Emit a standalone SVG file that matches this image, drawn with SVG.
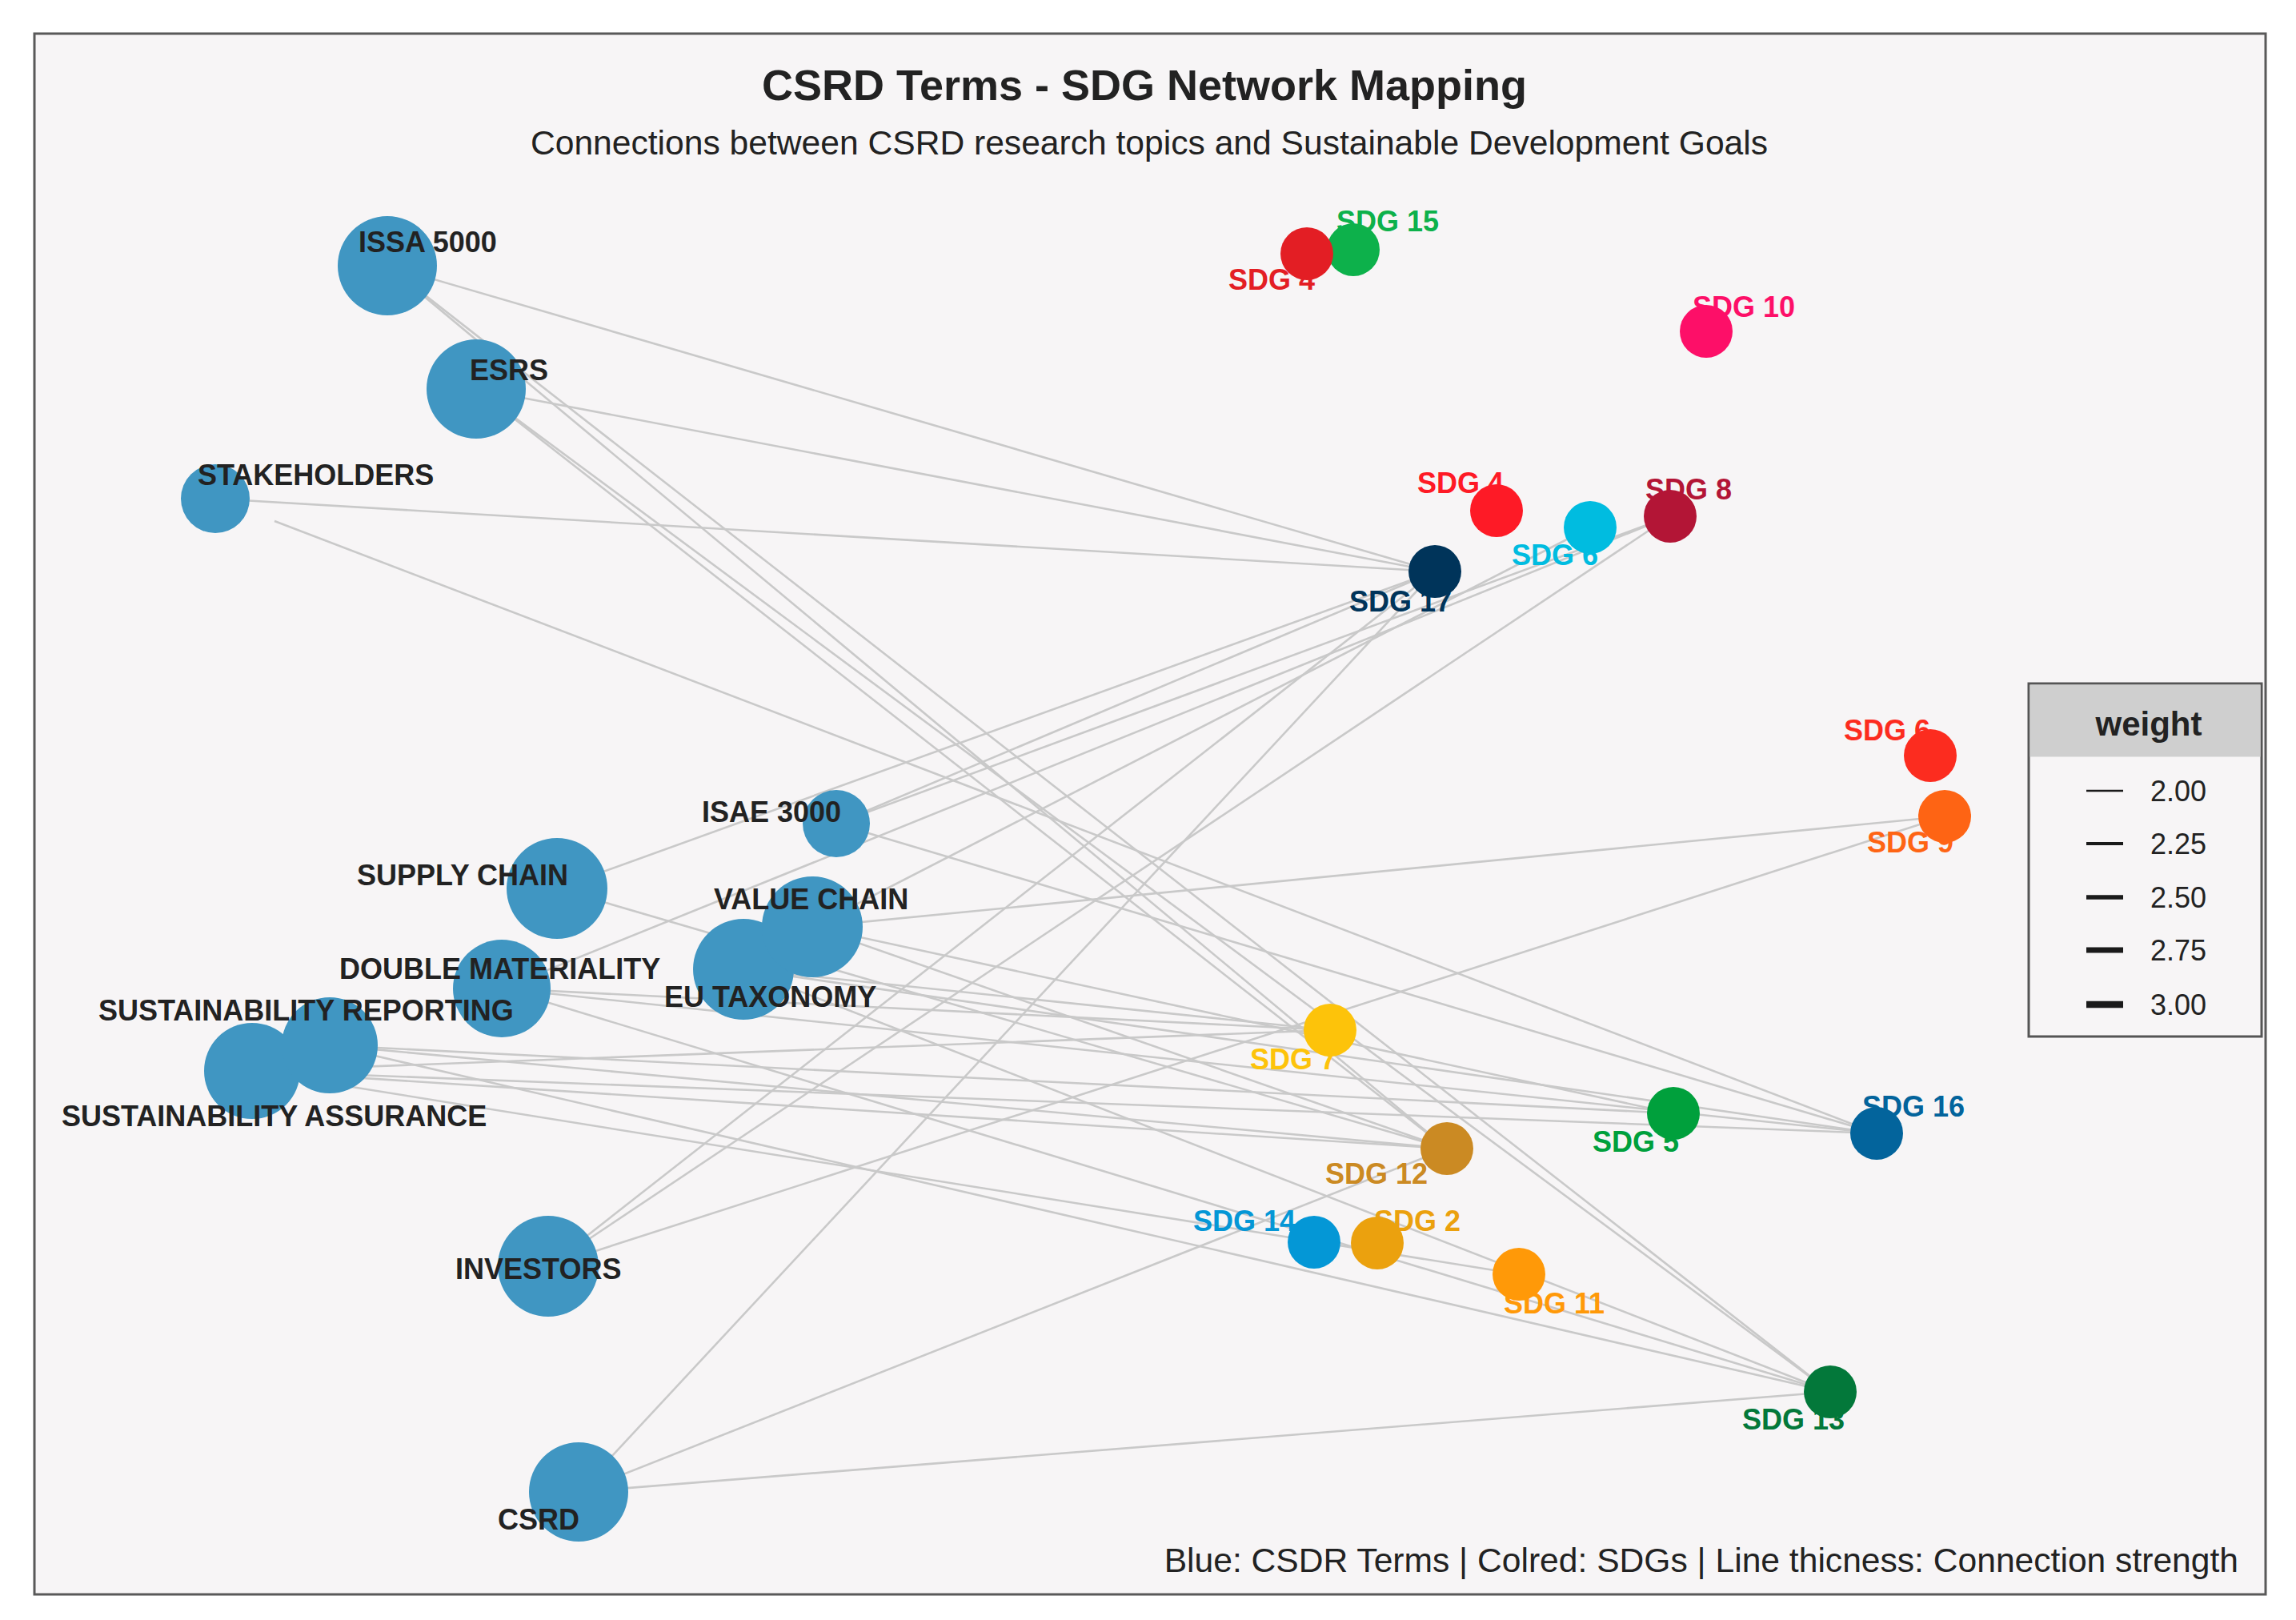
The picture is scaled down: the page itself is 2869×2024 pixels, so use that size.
<svg xmlns="http://www.w3.org/2000/svg" width="2869" height="2024" viewBox="0 0 2869 2024">
<style>
.t{font-family:"Liberation Sans",Arial,sans-serif;fill:#222}
.lbl{font-family:"Liberation Sans",Arial,sans-serif;font-weight:bold;font-size:36px}
.tl{fill:#222}
.term{fill:#4096c2}
.e line{stroke:#c9c9c9;stroke-width:2.6}
.lg{stroke:#1a1a1a}
</style>
<rect width="2869" height="2024" fill="#ffffff"/>
<rect x="43" y="42" width="2788" height="1950" fill="#f7f5f6" stroke="#595959" stroke-width="3"/>
<text class="t" x="1430" y="125" font-size="54" font-weight="bold" text-anchor="middle">CSRD Terms - SDG Network Mapping</text>
<text class="t" x="1436" y="193" font-size="42.6" text-anchor="middle">Connections between CSRD research topics and Sustainable Development Goals</text>
<text class="t" x="2797" y="1964" font-size="42.6" text-anchor="end">Blue: CSDR Terms | Colred: SDGs | Line thicness: Connection strength</text>

<g id="connectors" class="e">
<line x1="484" y1="332" x2="1793" y2="714"/>
<line x1="484" y1="332" x2="1808" y2="1435"/>
<line x1="484" y1="332" x2="2287" y2="1739"/>
<line x1="595" y1="486" x2="1793" y2="714"/>
<line x1="595" y1="486" x2="1808" y2="1435"/>
<line x1="595" y1="486" x2="2287" y2="1739"/>
<line x1="269" y1="623" x2="1793" y2="714"/>
<line x1="343" y1="651" x2="2345" y2="1416"/>
<line x1="1045" y1="1029" x2="1793" y2="714"/>
<line x1="1045" y1="1029" x2="2087" y2="645"/>
<line x1="1045" y1="1029" x2="2345" y2="1416"/>
<line x1="696" y1="1110" x2="1793" y2="714"/>
<line x1="696" y1="1110" x2="1808" y2="1435"/>
<line x1="1015" y1="1158" x2="1987" y2="659"/>
<line x1="1015" y1="1158" x2="2430" y2="1020"/>
<line x1="1015" y1="1158" x2="2091" y2="1391"/>
<line x1="1015" y1="1158" x2="1808" y2="1435"/>
<line x1="929" y1="1211" x2="1662" y2="1287"/>
<line x1="929" y1="1211" x2="2287" y2="1739"/>
<line x1="929" y1="1211" x2="2345" y2="1416"/>
<line x1="627" y1="1235" x2="2087" y2="645"/>
<line x1="627" y1="1235" x2="1662" y2="1287"/>
<line x1="627" y1="1235" x2="2287" y2="1739"/>
<line x1="627" y1="1235" x2="2345" y2="1416"/>
<line x1="412" y1="1306" x2="1808" y2="1435"/>
<line x1="412" y1="1306" x2="2287" y2="1739"/>
<line x1="412" y1="1306" x2="2091" y2="1391"/>
<line x1="315" y1="1338" x2="1808" y2="1435"/>
<line x1="315" y1="1338" x2="1898" y2="1592"/>
<line x1="315" y1="1338" x2="2345" y2="1416"/>
<line x1="315" y1="1338" x2="1662" y2="1287"/>
<line x1="685" y1="1582" x2="1793" y2="714"/>
<line x1="685" y1="1582" x2="2087" y2="645"/>
<line x1="685" y1="1582" x2="2430" y2="1020"/>
<line x1="723" y1="1864" x2="1793" y2="714"/>
<line x1="723" y1="1864" x2="1808" y2="1435"/>
<line x1="723" y1="1864" x2="2287" y2="1739"/>
</g>

<g id="issa5000"><circle class="term" cx="484" cy="332" r="62"/><text class="lbl tl" x="448" y="315">ISSA 5000</text></g>
<g id="esrs"><circle class="term" cx="595" cy="486" r="62"/><text class="lbl tl" x="587" y="475">ESRS</text></g>
<g id="stakeholders"><circle class="term" cx="269" cy="623" r="43"/><text class="lbl tl" x="247" y="606">STAKEHOLDERS</text></g>
<g id="isae3000"><circle class="term" cx="1045" cy="1029" r="42"/><text class="lbl tl" x="877" y="1027">ISAE 3000</text></g>
<g id="supplychain"><circle class="term" cx="696" cy="1110" r="63"/><text class="lbl tl" x="446" y="1106">SUPPLY CHAIN</text></g>
<g id="eutaxonomy"><circle class="term" cx="929" cy="1211" r="63"/><text class="lbl tl" x="830" y="1258">EU TAXONOMY</text></g>
<g id="valuechain"><circle class="term" cx="1015" cy="1158" r="63"/><text class="lbl tl" x="892" y="1136">VALUE CHAIN</text></g>
<g id="doublemateriality"><circle class="term" cx="627" cy="1235" r="61"/><text class="lbl tl" x="424" y="1223">DOUBLE MATERIALITY</text></g>
<g id="sustainabilityassurance"><circle class="term" cx="315" cy="1338" r="60"/><text class="lbl tl" x="77" y="1407">SUSTAINABILITY ASSURANCE</text></g>
<g id="sustainabilityreporting"><circle class="term" cx="412" cy="1306" r="60"/><text class="lbl tl" x="123" y="1275">SUSTAINABILITY REPORTING</text></g>
<g id="investors"><circle class="term" cx="685" cy="1582" r="63"/><text class="lbl tl" x="569" y="1598">INVESTORS</text></g>
<g id="csrd"><circle class="term" cx="723" cy="1864" r="62"/><text class="lbl tl" x="622" y="1911">CSRD</text></g>

<g id="sdg15"><circle cx="1691" cy="312" r="33" fill="#0db14b"/><text class="lbl" x="1670" y="289" fill="#0db14b">SDG 15</text></g>
<g id="sdg4a"><circle cx="1633" cy="317" r="33" fill="#e31e24"/><text class="lbl" x="1535" y="362" fill="#e31e24">SDG 4</text></g>
<g id="sdg10"><circle cx="2132" cy="414" r="33" fill="#fd0f68"/><text class="lbl" x="2115" y="396" fill="#fd0f68">SDG 10</text></g>
<g id="sdg4b"><circle cx="1870" cy="638" r="33" fill="#fe1a26"/><text class="lbl" x="1771" y="616" fill="#fe1a26">SDG 4</text></g>
<g id="sdg6a"><circle cx="1987" cy="659" r="33" fill="#00bce0"/><text class="lbl" x="1889" y="706" fill="#00bce0">SDG 6</text></g>
<g id="sdg8"><circle cx="2087" cy="645" r="33" fill="#b31536"/><text class="lbl" x="2056" y="624" fill="#b31536">SDG 8</text></g>
<g id="sdg17"><circle cx="1793" cy="714" r="33" fill="#00345a"/><text class="lbl" x="1686" y="764" fill="#00345a">SDG 17</text></g>
<g id="sdg6b"><circle cx="2412" cy="944" r="33" fill="#fc2c1f"/><text class="lbl" x="2304" y="925" fill="#fc2c1f">SDG 6</text></g>
<g id="sdg9"><circle cx="2430" cy="1020" r="33" fill="#fe6414"/><text class="lbl" x="2333" y="1065" fill="#fe6414">SDG 9</text></g>
<g id="sdg7"><circle cx="1662" cy="1287" r="33" fill="#fdc30a"/><text class="lbl" x="1562" y="1336" fill="#fdc30a">SDG 7</text></g>
<g id="sdg5"><circle cx="2091" cy="1391" r="33" fill="#00a03c"/><text class="lbl" x="1990" y="1439" fill="#00a03c">SDG 5</text></g>
<g id="sdg16"><circle cx="2345" cy="1416" r="33" fill="#03649c"/><text class="lbl" x="2327" y="1395" fill="#03649c">SDG 16</text></g>
<g id="sdg12"><circle cx="1808" cy="1435" r="33" fill="#cb8a23"/><text class="lbl" x="1656" y="1479" fill="#cb8a23">SDG 12</text></g>
<g id="sdg14"><circle cx="1642" cy="1552" r="33" fill="#0497d6"/><text class="lbl" x="1491" y="1538" fill="#0497d6">SDG 14</text></g>
<g id="sdg2"><circle cx="1721" cy="1553" r="33" fill="#eba10e"/><text class="lbl" x="1717" y="1538" fill="#eba10e">SDG 2</text></g>
<g id="sdg11"><circle cx="1898" cy="1592" r="33" fill="#ff9908"/><text class="lbl" x="1879" y="1641" fill="#ff9908">SDG 11</text></g>
<g id="sdg13"><circle cx="2287" cy="1739" r="33" fill="#03783a"/><text class="lbl" x="2177" y="1786" fill="#03783a">SDG 13</text></g>

<g id="legend">
<rect x="2535" y="854" width="291" height="441" fill="#f7f5f6" stroke="#555" stroke-width="3"/>
<rect x="2536.5" y="855.5" width="288" height="90" fill="#cfcfcf"/>
<text class="t" x="2685" y="919" font-size="42" font-weight="bold" text-anchor="middle">weight</text>
<line class="lg" x1="2607" y1="988" x2="2653" y2="988" stroke-width="2.7"/>
<line class="lg" x1="2607" y1="1054" x2="2653" y2="1054" stroke-width="4"/>
<line class="lg" x1="2607" y1="1121" x2="2653" y2="1121" stroke-width="5.5"/>
<line class="lg" x1="2607" y1="1187" x2="2653" y2="1187" stroke-width="7"/>
<line class="lg" x1="2607" y1="1255" x2="2653" y2="1255" stroke-width="8.5"/>
<text class="t" x="2687" y="1001" font-size="36">2.00</text>
<text class="t" x="2687" y="1067" font-size="36">2.25</text>
<text class="t" x="2687" y="1134" font-size="36">2.50</text>
<text class="t" x="2687" y="1200" font-size="36">2.75</text>
<text class="t" x="2687" y="1268" font-size="36">3.00</text>
</g>
</svg>
